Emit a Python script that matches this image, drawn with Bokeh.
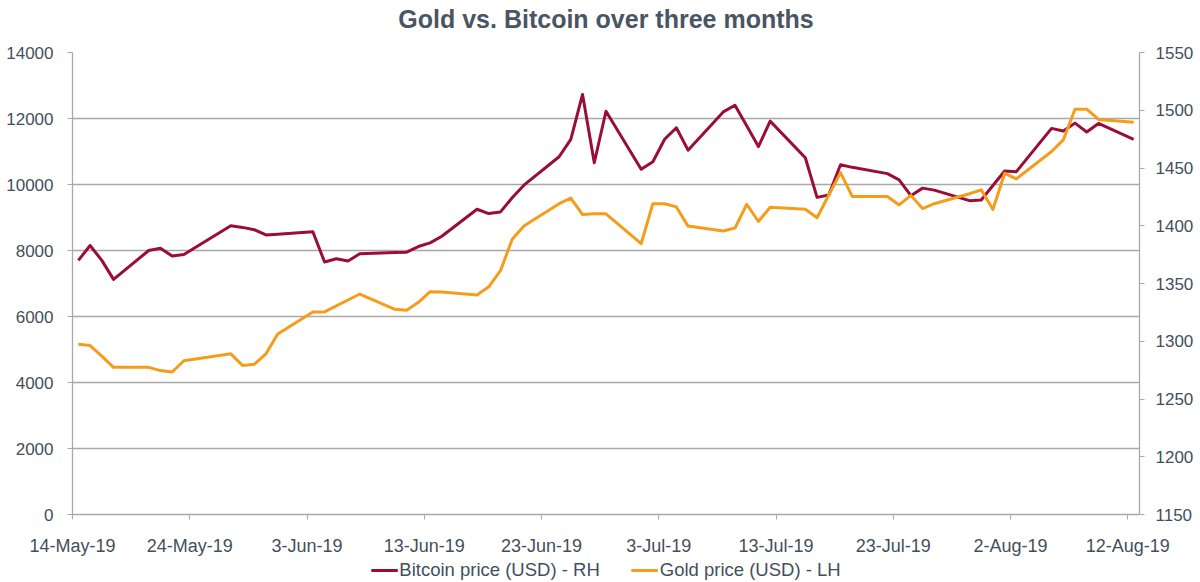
import pandas as pd
from bokeh.plotting import figure
from bokeh.layouts import column
from bokeh.models import (Range1d, LinearAxis, FixedTicker, NumeralTickFormatter,
                          Legend, LegendItem, ColumnDataSource, Label)
from bokeh.embed import file_html
from bokeh.resources import INLINE

# ---------------- data ----------------
dates = ["2019-05-14", "2019-05-15", "2019-05-16", "2019-05-17", "2019-05-20", "2019-05-21",
         "2019-05-22", "2019-05-23", "2019-05-27", "2019-05-28", "2019-05-29", "2019-05-30",
         "2019-05-31", "2019-06-03", "2019-06-04", "2019-06-05", "2019-06-06", "2019-06-07",
         "2019-06-10", "2019-06-11", "2019-06-12", "2019-06-13", "2019-06-14", "2019-06-17",
         "2019-06-18", "2019-06-19", "2019-06-20", "2019-06-21", "2019-06-24", "2019-06-25",
         "2019-06-26", "2019-06-27", "2019-06-28", "2019-07-01", "2019-07-02", "2019-07-03",
         "2019-07-04", "2019-07-05", "2019-07-08", "2019-07-09", "2019-07-10", "2019-07-11",
         "2019-07-12", "2019-07-15", "2019-07-16", "2019-07-17", "2019-07-18", "2019-07-19",
         "2019-07-22", "2019-07-23", "2019-07-24", "2019-07-25", "2019-07-26", "2019-07-29",
         "2019-07-30", "2019-07-31", "2019-08-01", "2019-08-02", "2019-08-05", "2019-08-06",
         "2019-08-07", "2019-08-08", "2019-08-09", "2019-08-12"]

bitcoin = [7700, 8150, 7700, 7125, 8000, 8070,
           7830, 7880, 8750, 8700, 8630, 8470,
           8490, 8570, 7650, 7750, 7680, 7900,
           7940, 7950, 8120, 8230, 8430, 9250,
           9120, 9170, 9600, 9980, 10840, 11370,
           12730, 10660, 12220, 10460, 10690, 11370,
           11720, 11040, 12200, 12400, 11780, 11150,
           11920, 10810, 9610, 9680, 10600, 10520,
           10330, 10140, 9660, 9890, 9830, 9510,
           9530, 9970, 10410, 10390, 11700, 11620,
           11860, 11590, 11850, 11370]

gold = [1297.4, 1296.3, 1287.1, 1277.4, 1277.4, 1274.6,
        1273.4, 1283.1, 1289.1, 1279.1, 1280.0, 1289.1,
        1306.3, 1325.4, 1325.4, 1330.6, 1335.7, 1340.9,
        1327.7, 1326.9, 1333.7, 1342.9, 1342.6, 1340.0,
        1347.1, 1361.1, 1388.3, 1399.7, 1419.1, 1424.0,
        1409.7, 1410.3, 1410.3, 1384.6, 1419.1, 1419.1,
        1416.3, 1399.7, 1395.4, 1398.0, 1418.6, 1403.7,
        1416.0, 1414.3, 1406.9, 1426.6, 1446.0, 1425.4,
        1425.4, 1418.0, 1426.3, 1414.9, 1419.1, 1427.7,
        1431.1, 1414.0, 1445.4, 1440.6, 1464.3, 1474.3,
        1500.9, 1500.9, 1492.0, 1489.7]

tick_dates = ["2019-05-14", "2019-05-24", "2019-06-03", "2019-06-13", "2019-06-23",
              "2019-07-03", "2019-07-13", "2019-07-23", "2019-08-02", "2019-08-12"]
tick_labels = ["14-May-19", "24-May-19", "3-Jun-19", "13-Jun-19", "23-Jun-19",
               "3-Jul-19", "13-Jul-19", "23-Jul-19", "2-Aug-19", "12-Aug-19"]
left_ticks = [0, 2000, 4000, 6000, 8000, 10000, 12000, 14000]
right_ticks = [1150, 1200, 1250, 1300, 1350, 1400, 1450, 1500, 1550]

title_text = "Gold vs. Bitcoin over three months"
btc_label = "Bitcoin price (USD) - RH"
gold_label = "Gold price (USD) - LH"

# ---------------- styling ----------------
FONT = "Liberation Sans"
TXT = "#434f5c"
GRID = "#a9a9a9"
BTC_C = "#9a0e36"
GOLD_C = "#f59d1b"
W = 1200
TITLE_H = 42
LEGEND_H = 24
MAIN_H = 582 - TITLE_H - LEGEND_H


def strip(height):
    f = figure(width=W, height=height, output_backend="svg", toolbar_location=None,
               x_axis_type=None, y_axis_type=None,
               x_range=Range1d(0, 1), y_range=Range1d(0, height),
               min_border_left=0, min_border_right=0, min_border_top=0, min_border_bottom=0)
    f.outline_line_color = None
    f.xgrid.grid_line_color = None
    f.ygrid.grid_line_color = None
    f.background_fill_color = "white"
    f.border_fill_color = "white"
    return f


# ---------------- title strip ----------------
tf = strip(TITLE_H)
tf.add_layout(Label(x=0.5, y=TITLE_H - 18.5, text=title_text, text_align="center",
                    text_baseline="middle", text_font=FONT, text_font_size="25px",
                    text_font_style="bold", text_color="#4a5563"))

# ---------------- main chart ----------------
x = pd.to_datetime(dates) + pd.Timedelta(hours=12)
src = ColumnDataSource(dict(x=x, btc=bitcoin, gold=gold))

p = figure(width=W, height=MAIN_H, output_backend="svg", toolbar_location=None,
           x_axis_type="datetime",
           x_range=Range1d(pd.Timestamp("2019-05-14"), pd.Timestamp("2019-08-13")),
           y_range=Range1d(0, 14000),
           min_border_left=72, min_border_right=61, min_border_top=10, min_border_bottom=44)
p.outline_line_color = None
p.background_fill_color = "white"
p.border_fill_color = "white"

p.extra_y_ranges = {"gold": Range1d(1150, 1550)}

r_btc = p.line("x", "btc", source=src, line_color=BTC_C, line_width=3, line_join="round")
r_gold = p.line("x", "gold", source=src, y_range_name="gold", line_color=GOLD_C,
                line_width=3, line_join="round")

tick_ms = [pd.Timestamp(d).value // 10**6 for d in tick_dates]
xa = p.xaxis[0]
xa.ticker = FixedTicker(ticks=tick_ms)
xa.major_label_overrides = {t: l for t, l in zip(tick_ms, tick_labels)}
xa.minor_tick_line_color = None
xa.major_tick_in = 0
xa.major_tick_out = 5
xa.major_tick_line_color = GRID
xa.axis_line_color = GRID
xa.axis_line_width = 1.3
xa.major_label_standoff = 16
xa.major_label_text_font = FONT
xa.major_label_text_font_size = "18px"
xa.major_label_text_color = TXT

ya = p.yaxis[0]
ya.ticker = FixedTicker(ticks=left_ticks)
ya.formatter = NumeralTickFormatter(format="0")
ya.minor_tick_line_color = None
ya.major_tick_in = 0
ya.major_tick_out = 5
ya.major_tick_line_color = GRID
ya.axis_line_color = GRID
ya.axis_line_width = 1.3
ya.major_label_standoff = 14
ya.major_label_text_font = FONT
ya.major_label_text_font_size = "17px"
ya.major_label_text_color = TXT

ra = LinearAxis(y_range_name="gold", ticker=FixedTicker(ticks=right_ticks),
                formatter=NumeralTickFormatter(format="0"))
ra.minor_tick_line_color = None
ra.major_tick_in = 0
ra.major_tick_out = 5
ra.major_tick_line_color = GRID
ra.axis_line_color = GRID
ra.axis_line_width = 1.3
ra.major_label_standoff = 11
ra.major_label_text_font = FONT
ra.major_label_text_font_size = "17px"
ra.major_label_text_color = TXT
p.add_layout(ra, "right")

p.xgrid.grid_line_color = None
p.ygrid.ticker = FixedTicker(ticks=left_ticks)
p.ygrid.grid_line_color = GRID
p.ygrid.grid_line_width = 1.3

# ---------------- legend strip ----------------
lg = strip(LEGEND_H)
nan = float("nan")
d_btc = lg.line(x=[nan], y=[nan], line_color=BTC_C, line_width=3)
d_gold = lg.line(x=[nan], y=[nan], line_color=GOLD_C, line_width=3)

legend = Legend(items=[LegendItem(label=btc_label, renderers=[d_btc]),
                       LegendItem(label=gold_label, renderers=[d_gold])],
                orientation="horizontal", location="center")
legend.label_text_font = FONT
legend.label_text_font_size = "18.5px"
legend.label_text_color = TXT
legend.glyph_width = 27
legend.glyph_height = 18
legend.label_height = 18
legend.label_standoff = 2
legend.spacing = 31
legend.padding = 0
legend.margin = 0
legend.border_line_color = None
legend.background_fill_alpha = 0
lg.add_layout(legend, "center")

layout = column(tf, p, lg, spacing=0)
open("out.html", "w").write(file_html(layout, INLINE))
